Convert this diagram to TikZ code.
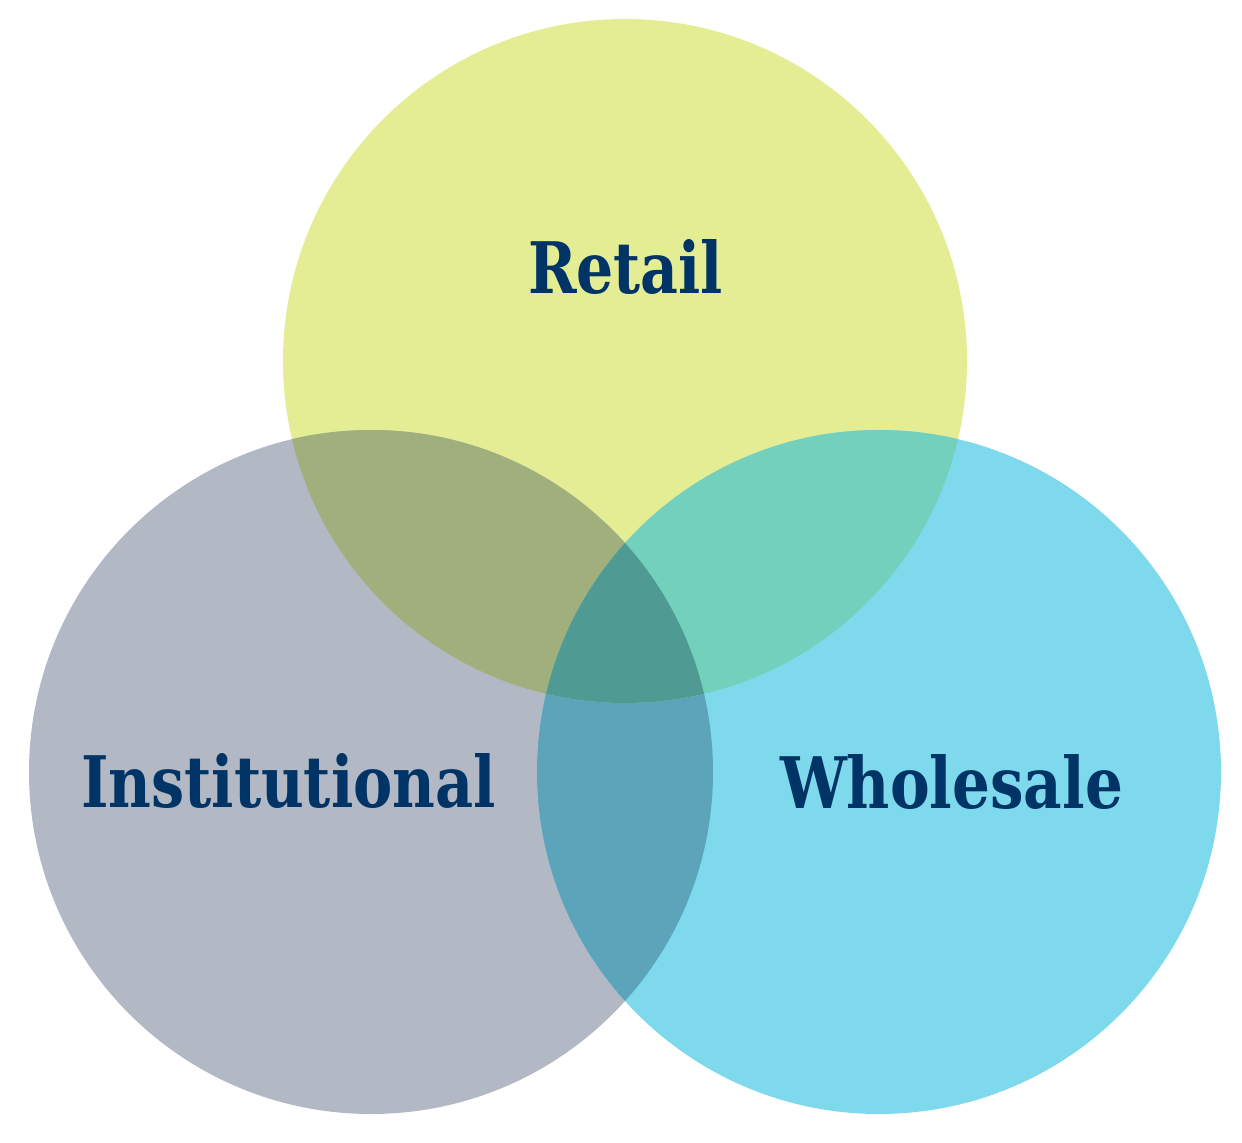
\documentclass[tikz,border=0pt]{standalone}
\usepackage{fontspec}
\setmainfont{DejaVu Serif}
\usepackage{graphicx}
\definecolor{cRet}{HTML}{E4ED94}
\definecolor{cIns}{HTML}{B2B9C4}
\definecolor{cWho}{HTML}{7FD9EC}
\definecolor{cRI}{HTML}{A1AF7D}
\definecolor{cRW}{HTML}{73D0BC}
\definecolor{cIW}{HTML}{5CA4BA}
\definecolor{cAll}{HTML}{4F9B93}
\definecolor{cTxt}{HTML}{003366}
\begin{document}
\begin{tikzpicture}[x=0.5pt,y=-0.5pt,
  lbl/.style={inner sep=0pt,outer sep=0pt,text=cTxt,font=\bfseries}]
\useasboundingbox (0,0) rectangle (1242,1143);
\def\R{342}
\coordinate (cr) at (625,361);
\coordinate (ci) at (371,772);
\coordinate (cw) at (879,772);
\fill[cRet] (cr) circle (\R);
\fill[cIns] (ci) circle (\R);
\fill[cWho] (cw) circle (\R);
\begin{scope}
  \clip (ci) circle (\R);
  \fill[cIW] (cw) circle (\R);
\end{scope}
\begin{scope}
  \clip (cr) circle (\R);
  \fill[cRI] (ci) circle (\R);
  \fill[cRW] (cw) circle (\R);
  \clip (ci) circle (\R);
  \fill[cAll] (cw) circle (\R);
\end{scope}
\node[lbl,anchor=base west] (ret) at (528,294) {\resizebox{97.5pt}{27pt}{Retail}};
\node[lbl,anchor=base west] (ins) at (81,807) {\resizebox{207.5pt}{27pt}{Institutional}};
\node[lbl,anchor=base west] (who) at (780,808) {\resizebox{171.5pt}{27pt}{Wholesale}};
\end{tikzpicture}
\end{document}
